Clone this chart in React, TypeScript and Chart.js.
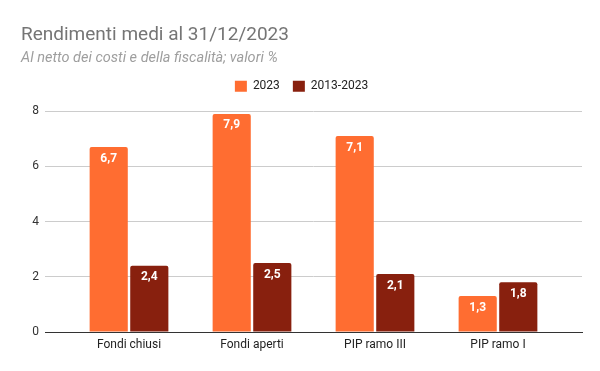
import React, { useEffect, useRef } from 'react';
import { Chart, registerables } from 'chart.js';

Chart.register(...registerables);

const categories = ['Fondi chiusi', 'Fondi aperti', 'PIP ramo III', 'PIP ramo I'];
const seriesNames = ['2023', '2013-2023'];
const values2023 = [6.7, 7.9, 7.1, 1.3];
const values2013to2023 = [2.4, 2.5, 2.1, 1.8];
const seriesColors = ['#ff6d31', '#88200e'];
const yMin = 0;
const yMax = 8;
const yStep = 2;
const titleText = 'Rendimenti medi al 31/12/2023';
const subtitleText = 'Al netto dei costi e della fiscalità; valori %';

const fmt = (v: number) => v.toFixed(1).replace('.', ',');

const barLabelPlugin = {
  id: 'barLabels',
  afterDatasetsDraw(chart: any) {
    const ctx = chart.ctx;
    ctx.save();
    ctx.font = 'bold 12px Roboto';
    ctx.fillStyle = '#ffffff';
    ctx.textAlign = 'center';
    ctx.textBaseline = 'middle';
    chart.data.datasets.forEach((ds: any, di: number) => {
      const meta = chart.getDatasetMeta(di);
      meta.data.forEach((el: any, i: number) => {
        const v = ds.data[i].y;
        ctx.fillText(fmt(v), el.x, el.y + 11.5);
      });
    });
    ctx.restore();
  },
};

export default function App() {
  const ref = useRef<HTMLCanvasElement | null>(null);

  useEffect(() => {
    if (!ref.current) return;
    Chart.defaults.font.family = 'Roboto';
    const datasets = [values2023, values2013to2023].map((vals, si) => ({
      label: seriesNames[si],
      data: vals.map((v, i) => ({ x: i, y: v })),
      backgroundColor: seriesColors[si],
      borderRadius: { topLeft: 2, topRight: 2, bottomLeft: 0, bottomRight: 0 },
      borderSkipped: false,
      categoryPercentage: 0.66,
      barPercentage: 0.94,
      xAxisID: 'x',
      yAxisID: 'y',
    }));
    const chart = new Chart(ref.current, {
      type: 'bar',
      data: { datasets },
      options: {
        animation: false,
        responsive: false,
        maintainAspectRatio: false,
        layout: { padding: { left: 21, right: 18, top: 0, bottom: 15 } },
        plugins: {
          title: {
            display: true,
            text: titleText,
            align: 'start',
            color: '#757575',
            font: { size: 19, weight: 'normal', family: 'Roboto' },
            padding: { top: 24, bottom: 0 },
          },
          subtitle: {
            display: true,
            text: subtitleText,
            align: 'start',
            color: '#9e9e9e',
            font: { size: 14.5, style: 'italic', family: 'Roboto' },
            padding: { top: 3, bottom: 0 },
          },
          legend: {
            display: true,
            position: 'top',
            align: 'center',
            labels: {
              boxWidth: 12,
              boxHeight: 11,
              padding: 13,
              color: '#222222',
              font: { size: 12, family: 'Roboto' },
            },
          },
          tooltip: { enabled: false },
        },
        scales: {
          x: {
            type: 'linear',
            position: 'bottom',
            offset: false,
            min: -0.683,
            max: categories.length - 1 + 0.683,
            grid: { display: false, drawTicks: false, offset: false },
            border: { display: true, color: '#333333', width: 1 },
            afterBuildTicks: (s: any) => {
              s.ticks = categories.map((_, i) => ({ value: i }));
            },
            ticks: {
              autoSkip: false,
              maxRotation: 0,
              padding: 6,
              color: '#222222',
              font: { size: 12, family: 'Roboto' },
              callback: (v: any) => categories[v] ?? '',
            },
            afterFit: (s: any) => {
              s.height = 24;
            },
          },
          y: {
            type: 'linear',
            position: 'left',
            min: yMin,
            max: yMax,
            ticks: {
              stepSize: yStep,
              padding: 6,
              color: '#333333',
              font: { size: 12, family: 'Roboto' },
            },
            grid: { color: '#cccccc', drawTicks: false, lineWidth: 1 },
            border: { display: false },
            afterFit: (s: any) => {
              s.width = 24;
            },
          },
          spacer: {
            type: 'linear',
            axis: 'x',
            position: 'top',
            display: true,
            grid: { display: false, drawTicks: false },
            border: { display: false },
            ticks: { display: false },
            afterFit: (s: any) => {
              s.height = 9;
            },
          },
        },
      },
      plugins: [barLabelPlugin],
    } as any);
    return () => chart.destroy();
  }, []);

  return (
    <div style={{ position: 'absolute', left: 0, top: 0, width: 600, height: 371, background: '#fff' }}>
      <canvas ref={ref} width={600} height={371} />
    </div>
  );
}
